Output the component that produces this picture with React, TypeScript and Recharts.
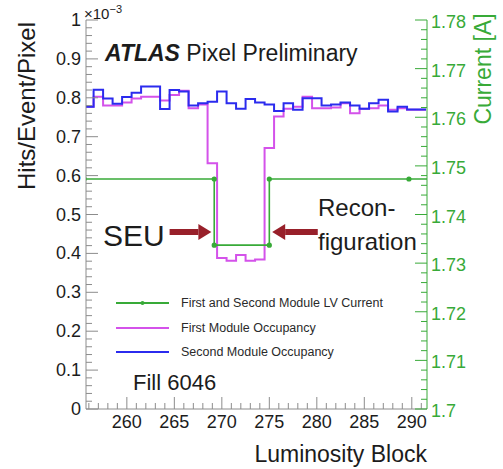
import React from 'react';
import { ComposedChart, Line, XAxis, YAxis, ReferenceLine, Legend } from 'recharts';

// luminosity blocks (bin centres) and occupancies in units of 1e-3 hits/event/pixel
const lumiBlocks = [
  256, 257, 258, 259, 260, 261, 262, 263, 264, 265, 266, 267,
  268, 269, 270, 271, 272, 273, 274, 275, 276, 277, 278, 279,
  280, 281, 282, 283, 284, 285, 286, 287, 288, 289, 290, 291,
];
const secondModuleOcc = [
  0.777, 0.821, 0.798, 0.785, 0.802, 0.813, 0.829, 0.829, 0.771, 0.82, 0.816, 0.78,
  0.786, 0.79, 0.816, 0.786, 0.772, 0.797, 0.788, 0.783, 0.766, 0.786, 0.769, 0.799,
  0.799, 0.78, 0.783, 0.788, 0.78, 0.772, 0.786, 0.795, 0.765, 0.777, 0.77, 0.77,
];
const firstModuleOcc = [
  0.777, 0.803, 0.78, 0.78, 0.788, 0.798, 0.803, 0.803, 0.793, 0.807, 0.818, 0.773,
  0.783, 0.632, 0.388, 0.381, 0.396, 0.381, 0.384, 0.671, 0.752, 0.772, 0.777, 0.803,
  0.773, 0.773, 0.775, 0.786, 0.76, 0.772, 0.773, 0.78, 0.769, 0.773, 0.769, 0.769,
];

// LV current readings [A]
const currentBlocks = [255.5, 269.2, 269.2, 275.0, 275.0, 289.7, 292.5];
const currentValues = [1.7473, 1.7473, 1.7337, 1.7337, 1.7473, 1.7473, 1.7473];

const xMajorTicks = [260, 265, 270, 275, 280, 285, 290];
const leftTickLabels = ['0', '0.1', '0.2', '0.3', '0.4', '0.5', '0.6', '0.7', '0.8', '0.9', '1'];
const rightTickLabels = ['1.7', '1.71', '1.72', '1.73', '1.74', '1.75', '1.76', '1.77', '1.78'];

const seriesNames = ['First and Second Module LV Current', 'First Module Occupancy', 'Second Module Occupancy'];

// annotation arrows (x in lumi block, y on the occupancy axis)
const seuArrow = [{ x: 264.5, y: 0.455 }, { x: 268.9, y: 0.455 }];
const reconfArrow = [{ x: 280.1, y: 0.455 }, { x: 275.3, y: 0.455 }];

const FONT = '"Liberation Sans", Arial, Helvetica, sans-serif';
const GREY = '#8c8c8c';
const TEXT = '#1c1c1c';
const GREEN = '#38aa38';
const BLUE = '#2b2bee';
const MAGENTA = '#d452ea';
const ARROW_RED = '#98202a';

const W = 503;
const H = 469;

const toSteps = (vals: number[]) => [
  ...lumiBlocks.map((lb, i) => ({ x: lb - 0.5, y: vals[i] })),
  { x: lumiBlocks[lumiBlocks.length - 1] + 0.5, y: vals[vals.length - 1] },
];
const blueSteps = toSteps(secondModuleOcc);
const magentaSteps = toSteps(firstModuleOcc);
const currentData = currentBlocks.map((x, i) => ({ x, y: currentValues[i] }));

const xTicks = Array.from({ length: 36 }, (_, i) => 256 + i);
const leftTicks = Array.from({ length: 51 }, (_, i) => i / 50);
const rightTicks = Array.from({ length: 41 }, (_, i) => 1.7 + i * 0.002);

const BottomTick = ({ x, y, payload }: any) => {
  const major = xMajorTicks.includes(payload.value);
  return (
    <g>
      <line x1={x} x2={x} y1={y} y2={y - (major ? 12 : 6)} stroke={GREY} />
      {major && (
        <text x={x} y={y + 13} textAnchor="middle" dominantBaseline="central" fontSize={18} fill={TEXT} fontFamily={FONT}>
          {payload.value}
        </text>
      )}
    </g>
  );
};

const TopTick = ({ x, y, payload }: any) => {
  const major = xMajorTicks.includes(payload.value);
  return <line x1={x} x2={x} y1={y} y2={y + (major ? 12 : 6)} stroke={GREY} />;
};

const LeftTick = ({ x, y, payload }: any) => {
  const k = Math.round(payload.value * 50);
  const major = k % 5 === 0;
  return (
    <g>
      <line x1={x} x2={x + (major ? 12 : 6)} y1={y} y2={y} stroke={GREY} />
      {major && (
        <text x={x - 5} y={y} textAnchor="end" dominantBaseline="central" fontSize={18} fill={TEXT} fontFamily={FONT}>
          {leftTickLabels[k / 5]}
        </text>
      )}
    </g>
  );
};

const RightTick = ({ x, y, payload }: any) => {
  const k = Math.round((payload.value - 1.7) * 500);
  const major = k % 5 === 0;
  return (
    <g>
      <line x1={x} x2={x - (major ? 12 : 6)} y1={y} y2={y} stroke={GREEN} />
      {major && (
        <text x={x + 4} y={y + 2} textAnchor="start" dominantBaseline="central" fontSize={18} fill={GREEN} fontFamily={FONT}>
          {rightTickLabels[k / 5]}
        </text>
      )}
    </g>
  );
};

const arrowShape = (props: any) => {
  const { x1, y1, x2, y2 } = props;
  const dir = Math.sign(x2 - x1);
  const head = 13;
  const baseX = x2 - dir * head;
  return (
    <g>
      <line x1={x1} y1={y1} x2={baseX} y2={y2} stroke={ARROW_RED} strokeWidth={6} />
      <polygon points={`${x2},${y2} ${baseX},${y2 - 8} ${baseX},${y2 + 8}`} fill={ARROW_RED} />
    </g>
  );
};

const LegendBox = ({ payload }: any) => {
  const items = [...(payload || [])].sort(
    (a: any, b: any) => seriesNames.indexOf(a.value) - seriesNames.indexOf(b.value)
  );
  return (
    <div style={{ fontFamily: FONT }}>
      {items.map((it: any) => (
        <div key={it.value} style={{ display: 'flex', alignItems: 'center', height: 24.5 }}>
          <svg width={53} height={8} style={{ marginRight: 12 }}>
            <line x1={0} x2={53} y1={4} y2={4} stroke={it.color} strokeWidth={2} />
            {it.color === GREEN && <circle cx={26.5} cy={4} r={2} fill={GREEN} />}
          </svg>
          <span style={{ fontSize: 12.5, color: '#2a2a2a', whiteSpace: 'nowrap' }}>{it.value}</span>
        </div>
      ))}
    </div>
  );
};

const overlay = (style: React.CSSProperties): React.CSSProperties => ({
  position: 'absolute',
  whiteSpace: 'nowrap',
  lineHeight: 1,
  fontFamily: FONT,
  color: TEXT,
  ...style,
});

export default function App() {
  return (
    <div style={{ position: 'absolute', left: 0, top: 0, width: W, height: H, background: '#fff', fontFamily: FONT }}>
      <ComposedChart width={W} height={H} margin={{ top: 20, right: 0, bottom: 0, left: 0 }}>
        <XAxis
          dataKey="x"
          type="number"
          domain={[255.7, 291.6]}
          allowDataOverflow
          ticks={xTicks}
          interval={0}
          height={60}
          tickSize={0}
          tickMargin={0}
          tick={<BottomTick />}
          stroke={GREY}
        />
        <XAxis
          xAxisId="top"
          orientation="top"
          dataKey="x"
          type="number"
          domain={[255.7, 291.6]}
          allowDataOverflow
          ticks={xTicks}
          interval={0}
          height={0}
          tickSize={0}
          tickMargin={0}
          tick={<TopTick />}
          stroke={GREY}
        />
        <YAxis
          yAxisId="left"
          type="number"
          domain={[0, 1]}
          allowDataOverflow
          ticks={leftTicks}
          interval={0}
          width={86}
          tickSize={0}
          tickMargin={0}
          tick={<LeftTick />}
          stroke={GREY}
        />
        <YAxis
          yAxisId="right"
          orientation="right"
          type="number"
          domain={[1.7, 1.78]}
          allowDataOverflow
          ticks={rightTicks}
          interval={0}
          width={76}
          tickSize={0}
          tickMargin={0}
          tick={<RightTick />}
          stroke={GREEN}
        />
        <Legend
          layout="vertical"
          align="center"
          verticalAlign="middle"
          content={<LegendBox />}
          wrapperStyle={{ left: 116, top: 291, width: 320, height: 75 }}
        />
        <Line
          yAxisId="left"
          data={magentaSteps}
          dataKey="y"
          type="stepAfter"
          stroke={MAGENTA}
          strokeWidth={2}
          dot={false}
          name={seriesNames[1]}
          isAnimationActive={false}
        />
        <Line
          yAxisId="left"
          data={blueSteps}
          dataKey="y"
          type="stepAfter"
          stroke={BLUE}
          strokeWidth={2}
          dot={false}
          name={seriesNames[2]}
          isAnimationActive={false}
        />
        <Line
          yAxisId="right"
          data={currentData}
          dataKey="y"
          type="linear"
          stroke={GREEN}
          strokeWidth={1.6}
          dot={{ r: 1.8, fill: GREEN, stroke: GREEN }}
          name={seriesNames[0]}
          isAnimationActive={false}
        />
        <ReferenceLine yAxisId="left" segment={seuArrow} shape={arrowShape} />
        <ReferenceLine yAxisId="left" segment={reconfArrow} shape={arrowShape} />
      </ComposedChart>

      <div style={overlay({ left: 84, top: 4, fontSize: 15 })}>
        ×10<sup style={{ fontSize: 11 }}>−3</sup>
      </div>
      <div style={overlay({ left: 105, top: 42, fontSize: 23 })}>
        <b><i>ATLAS</i></b> Pixel Preliminary
      </div>
      <div style={overlay({ left: 103, top: 221, fontSize: 30 })}>SEU</div>
      <div style={overlay({ left: 318, top: 196, fontSize: 24 })}>Recon-</div>
      <div style={overlay({ left: 318, top: 230, fontSize: 24 })}>figuration</div>
      <div style={overlay({ left: 133, top: 372, fontSize: 22 })}>Fill 6046</div>
      <div style={overlay({ right: W - 427, top: 443, fontSize: 23 })}>Luminosity Block</div>
      <div
        style={overlay({
          left: 27,
          top: 106,
          fontSize: 24,
          transform: 'translate(-50%, -50%) rotate(-90deg)',
        })}
      >
        Hits/Event/Pixel
      </div>
      <div
        style={overlay({
          left: 483,
          top: 69,
          fontSize: 23,
          color: GREEN,
          transform: 'translate(-50%, -50%) rotate(-90deg)',
        })}
      >
        Current [A]
      </div>
    </div>
  );
}
